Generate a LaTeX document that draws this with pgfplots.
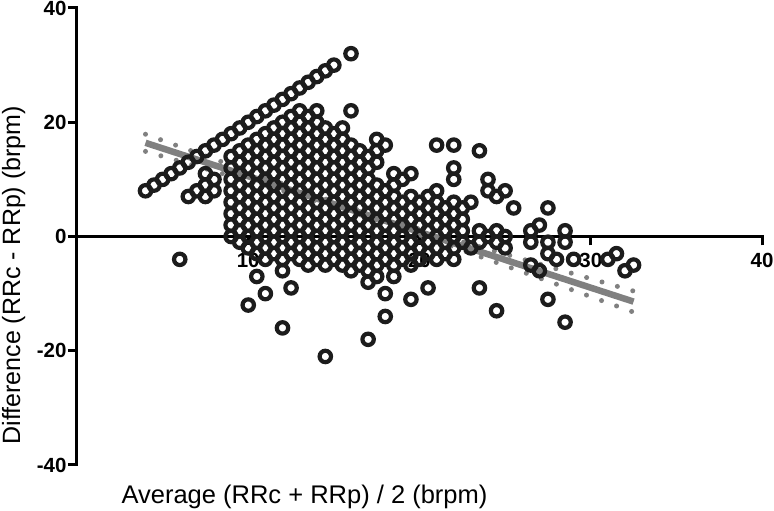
\documentclass[border=0pt]{standalone}
\usepackage{fontspec}
\setmainfont{Liberation Sans}
\usepackage{pgfplots}
\pgfplotsset{compat=1.18}
\definecolor{ring}{HTML}{1C1C1C}
\definecolor{fitgray}{HTML}{808080}
\begin{document}
\begin{tikzpicture}
\begin{axis}[
  scale only axis, width=685pt, height=457pt,
  xmin=0, xmax=40, ymin=-40, ymax=40,
  axis x line*=middle, axis y line*=left,
  xtick={10,20,30,40}, ytick={-40,-20,0,20,40},
  hide obscured x ticks=false, hide obscured y ticks=false,
  tick align=outside, major tick length=9pt,
  axis line style={line width=3pt, line cap=rect},
  tick style={line width=3pt, black},
  ticklabel style={font=\fontsize{20.5}{22}\selectfont\bfseries},
  yticklabel style={xshift=2pt},
  xticklabel style={yshift=-4pt},
  /pgf/number format/assume math mode=true,
  clip=false, set layers=standard,
]
% 95% band of the fit
\addplot[fitgray, line width=5pt, line cap=round, dash pattern=on 0pt off 16pt] coordinates {
(4,17.90) (6,15.73) (8,13.56) (10,11.39) (12,9.24) (14,7.11) (16,5.05) (18,3.12)
(20,1.30) (22,-0.46) (24,-2.20) (26,-3.94) (28,-5.67) (30,-7.39) (32,-9.12) (32.5,-9.55)};
\addplot[fitgray, line width=5pt, line cap=round, dash pattern=on 0pt off 16pt] coordinates {
(4,14.90) (6,13.17) (8,11.44) (10,9.71) (12,7.96) (14,6.18) (16,4.33) (18,2.36)
(20,0.28) (22,-1.86) (24,-4.02) (26,-6.18) (28,-8.35) (30,-10.53) (32,-12.70) (32.5,-13.25)};
% regression line
\addplot[fitgray, line width=6.5pt] coordinates {(4,16.4) (32.5,-11.4)};
% data
\addplot[only marks, mark=o, mark size=5.7pt, ring, mark options={line width=4.2pt}] coordinates {
(4,8) (4.5,9) (5,10) (5.5,11) (6,12) (6.5,13) (7,14) (7.5,15) (8,16) (8.5,17) (9,18) (9.5,19)
(10,20) (10.5,21) (11,22) (11.5,23) (12,24) (12.5,25) (13,26) (13.5,27) (14,28) (14.5,29) (15,30) (16,32)
(6.5,7) (7,8) (7.5,7) (7.5,9) (8,8) (8,10) (7.5,11) (6,-4)
(13,22) (14,22) (16,22)
(12.5,21) (13.5,21)
(12,20) (13,20) (14,20)
(11.5,19) (12.5,19) (13.5,19) (14.5,19) (15.5,19)
(11,18) (12,18) (13,18) (14,18) (15,18)
(10.5,17) (11.5,17) (12.5,17) (13.5,17) (14.5,17) (15.5,17)
(10,16) (11,16) (12,16) (13,16) (14,16) (15,16) (16,16)
(9.5,15) (10.5,15) (11.5,15) (12.5,15) (13.5,15) (14.5,15) (15.5,15) (16.5,15)
(9,14) (10,14) (11,14) (12,14) (13,14) (14,14) (15,14) (16,14)
(9.5,13) (10.5,13) (11.5,13) (12.5,13) (13.5,13) (14.5,13) (15.5,13) (16.5,13)
(9,12) (10,12) (11,12) (12,12) (13,12) (14,12) (15,12) (16,12)
(9.5,11) (10.5,11) (11.5,11) (12.5,11) (13.5,11) (14.5,11) (15.5,11) (16.5,11)
(9,10) (10,10) (11,10) (12,10) (13,10) (14,10) (15,10) (16,10) (17,10)
(9.5,9) (10.5,9) (11.5,9) (12.5,9) (13.5,9) (14.5,9) (15.5,9) (16.5,9) (17.5,9)
(9,8) (10,8) (11,8) (12,8) (13,8) (14,8) (15,8) (16,8) (17,8) (18,8)
(9.5,7) (10.5,7) (11.5,7) (12.5,7) (13.5,7) (14.5,7) (15.5,7) (16.5,7) (17.5,7) (18.5,7) (19.5,7)
(9,6) (10,6) (11,6) (12,6) (13,6) (14,6) (15,6) (16,6) (17,6) (18,6) (19,6) (20,6) (21,6) (22,6) (23,6)
(9.5,5) (10.5,5) (11.5,5) (12.5,5) (13.5,5) (14.5,5) (15.5,5) (16.5,5) (17.5,5) (18.5,5) (19.5,5) (20.5,5) (21.5,5) (22.5,5)
(9,4) (10,4) (11,4) (12,4) (13,4) (14,4) (15,4) (16,4) (17,4) (18,4) (19,4) (20,4) (21,4) (22,4)
(9.5,3) (10.5,3) (11.5,3) (12.5,3) (13.5,3) (14.5,3) (15.5,3) (16.5,3) (17.5,3) (18.5,3) (19.5,3) (20.5,3) (21.5,3) (22.5,3)
(9,2) (10,2) (11,2) (12,2) (13,2) (14,2) (15,2) (16,2) (17,2) (18,2) (19,2) (20,2) (21,2) (22,2)
(9.5,1) (10.5,1) (11.5,1) (12.5,1) (13.5,1) (14.5,1) (15.5,1) (16.5,1) (17.5,1) (18.5,1) (19.5,1) (20.5,1) (21.5,1) (22.5,1)
(9,0) (10,0) (11,0) (12,0) (13,0) (14,0) (15,0) (16,0) (17,0) (18,0) (19,0) (20,0) (21,0) (22,0)
(9.5,-1) (10.5,-1) (11.5,-1) (12.5,-1) (13.5,-1) (14.5,-1) (15.5,-1) (16.5,-1) (17.5,-1) (18.5,-1) (19.5,-1) (20.5,-1) (21.5,-1) (22.5,-1)
(10,-2) (11,-2) (12,-2) (13,-2) (14,-2) (15,-2) (16,-2) (17,-2) (18,-2) (19,-2) (20,-2) (21,-2) (22,-2)
(10.5,-3) (11.5,-3) (12.5,-3) (13.5,-3) (14.5,-3) (15.5,-3) (16.5,-3) (17.5,-3) (18.5,-3) (19.5,-3) (20.5,-3) (21.5,-3)
(11,-4) (12,-4) (13,-4) (14,-4) (15,-4) (16,-4) (17,-4) (18,-4) (19,-4) (20,-4) (21,-4) (22,-4)
(13.5,-5) (14.5,-5) (15.5,-5) (16.5,-5) (17.5,-5) (18.5,-5) (19.5,-5)
(16,-6) (17,-6)
(17.5,17) (18,16) (17.5,15) (17,14) (17.5,13) (17,12)
(18.5,11) (19.5,11) (19,10) (18.5,9) (21,8) (20.5,7)
(21,16) (22,16) (23.5,15) (22,12) (22,10) (24,10) (24,8) (24.5,7) (25,8) (25.5,5) (27.5,5)
(23.5,1) (24.5,1) (24,0) (25,0) (23.5,-1) (24.5,-1) (23,-2) (25,-2)
(27,2) (26.5,1) (28.5,1) (26.5,-1) (27.5,-1) (28.5,-1) (27.5,-3) (28,-4) (29,-4)
(26.5,-5) (27,-6) (31,-4) (31.5,-3) (32,-6) (32.5,-5)
(23.5,-9) (27.5,-11) (24.5,-13) (28.5,-15)
(20.5,-9) (19.5,-11) (18.5,-7) (18,-10) (18,-14) (17,-18) (14.5,-21) (17.5,-7) (17,-8)
(12,-16) (10,-12) (11,-10) (10.5,-7) (12,-6) (12.5,-9)
};
\node[rotate=90, anchor=base west, font=\fontsize{25}{30}\selectfont] at (axis description cs:-0.0832,0.037) {Difference (RRc - RRp) (brpm)};
\node[anchor=base west, font=\fontsize{25.5}{30}\selectfont] at (axis description cs:0.0599,-0.0832) {Average (RRc + RRp) / 2 (brpm)};
\end{axis}
\pgfresetboundingbox
\path (-77pt,-46pt) rectangle (697pt,465pt);
\end{tikzpicture}
\end{document}
